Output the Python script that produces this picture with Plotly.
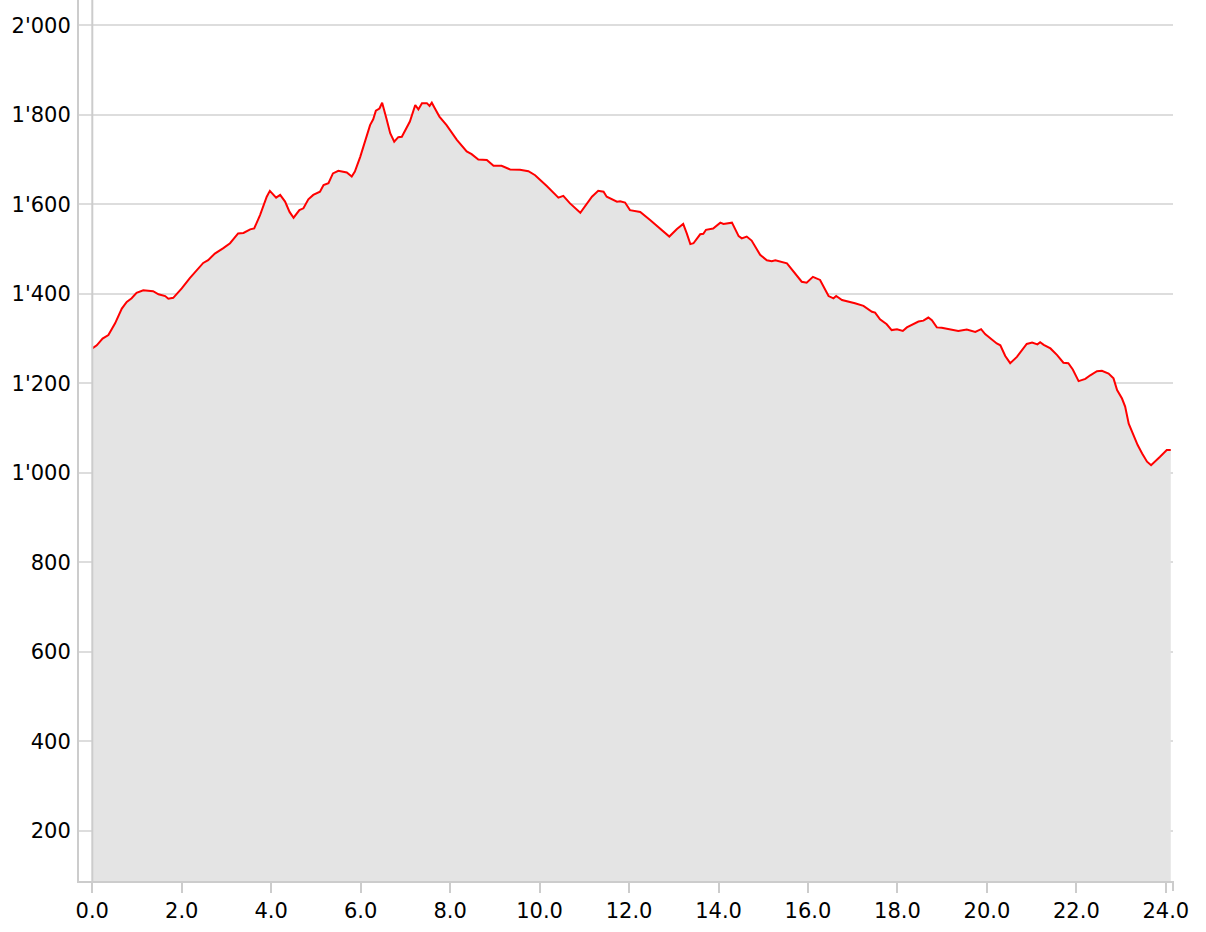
import plotly.graph_objects as go

distance_km = [
    0.00, 0.10, 0.23, 0.36, 0.51, 0.58, 0.66, 0.77, 0.88, 0.99, 1.14, 1.36, 1.48, 1.63, 1.70, 1.81,
    2.00, 2.18, 2.48, 2.59, 2.74, 2.93, 3.08, 3.26, 3.38, 3.53, 3.62, 3.75, 3.90, 3.97, 4.11, 4.20,
    4.31, 4.41, 4.50, 4.63, 4.72, 4.83, 4.94, 5.09, 5.17, 5.28, 5.38, 5.50, 5.61, 5.69, 5.80, 5.87,
    5.99, 6.10, 6.21, 6.28, 6.34, 6.42, 6.48, 6.58, 6.66, 6.75, 6.84, 6.92, 7.03, 7.10, 7.22, 7.29,
    7.37, 7.48, 7.54, 7.59, 7.66, 7.76, 7.92, 8.15, 8.37, 8.48, 8.63, 8.71, 8.82, 8.97, 9.15, 9.34,
    9.56, 9.75, 9.90, 10.16, 10.42, 10.53, 10.68, 10.91, 11.17, 11.31, 11.43, 11.50, 11.73, 11.80,
    11.91, 12.02, 12.25, 12.47, 12.69, 12.80, 12.90, 13.07, 13.21, 13.29, 13.37, 13.44, 13.59, 13.66,
    13.72, 13.88, 14.04, 14.11, 14.30, 14.45, 14.52, 14.63, 14.74, 14.93, 15.08, 15.19, 15.27, 15.53,
    15.71, 15.86, 15.97, 16.11, 16.27, 16.35, 16.46, 16.57, 16.63, 16.76, 16.94, 17.05, 17.24, 17.43,
    17.50, 17.61, 17.76, 17.87, 17.99, 18.12, 18.21, 18.36, 18.47, 18.58, 18.69, 18.77, 18.88, 18.99,
    19.18, 19.36, 19.55, 19.74, 19.87, 19.96, 20.11, 20.22, 20.30, 20.41, 20.52, 20.67, 20.89, 21.01,
    21.13, 21.19, 21.27, 21.42, 21.57, 21.71, 21.82, 21.92, 22.05, 22.20, 22.31, 22.46, 22.57, 22.72,
    22.83, 22.91, 23.02, 23.09, 23.17, 23.28, 23.37, 23.47, 23.58, 23.67, 23.76, 23.87, 24.02, 24.11,
]
elevation_m = [
    1278, 1285, 1300, 1308, 1334, 1349, 1367, 1382, 1390, 1402, 1408, 1406, 1399, 1395, 1389, 1391,
    1412, 1435, 1469, 1475, 1490, 1502, 1513, 1535, 1536, 1544, 1546, 1576, 1617, 1630, 1615, 1621,
    1606, 1583, 1570, 1587, 1591, 1611, 1621, 1628, 1643, 1647, 1669, 1675, 1673, 1671, 1662, 1673,
    1706, 1740, 1777, 1790, 1809, 1814, 1827, 1790, 1759, 1740, 1750, 1751, 1770, 1785, 1822, 1812,
    1826, 1826, 1820, 1827, 1814, 1796, 1777, 1744, 1718, 1712, 1700, 1699, 1699, 1686, 1686, 1678,
    1677, 1674, 1665, 1641, 1615, 1619, 1602, 1581, 1617, 1630, 1628, 1617, 1606, 1607,
    1604, 1587, 1583, 1565, 1546, 1536, 1528, 1545, 1556, 1535, 1511, 1513, 1533, 1534,
    1543, 1546, 1559, 1556, 1559, 1529, 1524, 1528, 1519, 1487, 1475, 1473, 1475, 1468,
    1446, 1427, 1425, 1438, 1431, 1416, 1395, 1390, 1395, 1386, 1382, 1379, 1373, 1360,
    1358, 1343, 1332, 1319, 1321, 1317, 1325, 1332, 1338, 1340, 1347, 1341, 1325, 1324,
    1321, 1317, 1320, 1315, 1321, 1310, 1298, 1289, 1285, 1261, 1245, 1259, 1288, 1291,
    1287, 1292, 1286, 1278, 1263, 1246, 1245, 1231, 1205, 1210, 1218, 1227, 1228, 1222,
    1211, 1185, 1166, 1148, 1110, 1081, 1062, 1043, 1025, 1017, 1025, 1036, 1051, 1051,
]

y_tick_values = [200, 400, 600, 800, 1000, 1200, 1400, 1600, 1800, 2000]
x_tick_values = [0, 2, 4, 6, 8, 10, 12, 14, 16, 18, 20, 22, 24]

FONT = "DejaVu Sans"
AXIS = "#cccccc"
GRID = "#dddddd"

fig = go.Figure()
fig.add_trace(go.Scatter(
    x=distance_km, y=elevation_m, mode="lines",
    line=dict(color="#ff0000", width=2),
    fill="tozeroy", fillcolor="#e4e4e4",
    hoverinfo="x+y", showlegend=False,
))

fig.update_layout(
    width=1206, height=932,
    margin=dict(l=79, r=33, t=0, b=51),
    paper_bgcolor="white", plot_bgcolor="white",
    separators=".'",
    font=dict(family=FONT, size=21, color="#000000"),
    showlegend=False,
    xaxis=dict(
        range=[-0.297, 24.16], tickvals=x_tick_values, tickformat=".1f",
        showgrid=False, zeroline=False,
        showline=True, linecolor=AXIS, linewidth=2,
        ticks="outside", ticklen=10, tickwidth=2, tickcolor=AXIS,
        tickfont=dict(family=FONT, size=21, color="#000000"),
    ),
    yaxis=dict(
        range=[88, 2056.5], tickvals=y_tick_values, tickformat=",",
        showgrid=True, gridcolor=GRID, gridwidth=2, zeroline=False,
        showline=True, linecolor=AXIS, linewidth=2,
        ticks="", ticklabelstandoff=2,
        tickfont=dict(family=FONT, size=21, color="#000000"),
    ),
    shapes=[
        dict(type="line", xref="x", yref="paper", x0=0, x1=0, y0=0, y1=1,
             line=dict(color=AXIS, width=2), layer="above"),
        dict(type="line", xref="paper", yref="paper", x0=1, x1=1, y0=0, y1=-10 / 881,
             line=dict(color=AXIS, width=2), layer="above"),
    ],
)

fig.write_html(
    "out.html",
    config={"displayModeBar": False},
    post_script="document.body.style.margin='0px';document.body.style.overflow='hidden';",
)
